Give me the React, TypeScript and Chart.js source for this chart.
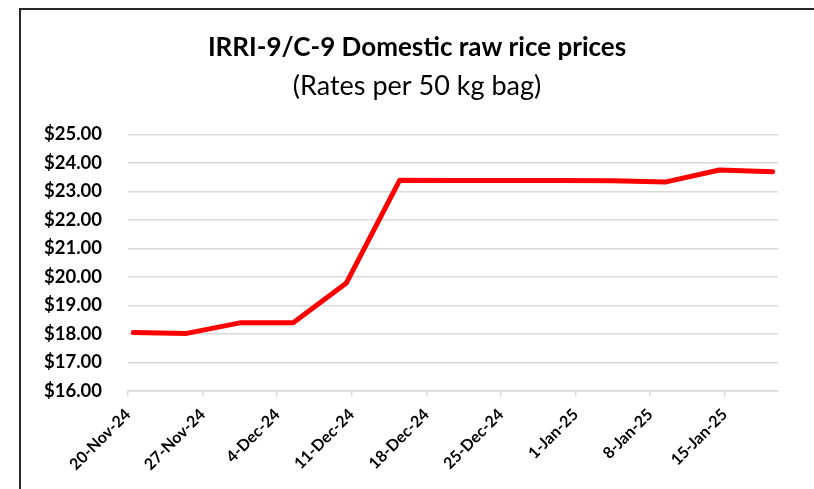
import React, { useEffect, useRef } from "react";
import { Chart, registerables } from "chart.js";

Chart.register(...registerables);

const TITLE = "IRRI-9/C-9 Domestic raw rice prices";
const SUBTITLE = "(Rates per 50 kg bag)";

// observation dates and prices (USD per 50 kg bag)
const dates = [
  "2024-11-20", "2024-11-25", "2024-11-30", "2024-12-05", "2024-12-10",
  "2024-12-15", "2024-12-20", "2024-12-25", "2024-12-30", "2025-01-04",
  "2025-01-09", "2025-01-14", "2025-01-19",
];
const prices = [
  18.05, 18.02, 18.39, 18.39, 19.79,
  23.39, 23.38, 23.38, 23.38, 23.37,
  23.33, 23.75, 23.69,
];

// x-axis ticks (weekly) and range
const tickDates = [
  "2024-11-20", "2024-11-27", "2024-12-04", "2024-12-11", "2024-12-18",
  "2024-12-25", "2025-01-01", "2025-01-08", "2025-01-15",
];
const axisStart = "2024-11-20";
const axisEnd = "2025-01-20";

const yMin = 16;
const yMax = 25;
const yStep = 1;

const MONTHS = ["Jan", "Feb", "Mar", "Apr", "May", "Jun", "Jul", "Aug", "Sep", "Oct", "Nov", "Dec"];
const DAY = 86400000;
const toUTC = (s: string) => {
  const [y, m, d] = s.split("-").map(Number);
  return Date.UTC(y, m - 1, d);
};
const dayOffset = (s: string) => Math.round((toUTC(s) - toUTC(axisStart)) / DAY);
const fmtDay = (off: number) => {
  const dt = new Date(toUTC(axisStart) + off * DAY);
  return `${dt.getUTCDate()}-${MONTHS[dt.getUTCMonth()]}-${String(dt.getUTCFullYear()).slice(2)}`;
};

const FONT = "Lato, 'Open Sans', sans-serif";

// draws the two-line heading centred inside the framed chart box
const headingPlugin = {
  id: "heading",
  afterDraw(chart: any) {
    const ctx = chart.ctx;
    const cx = (20 + chart.width) / 2;
    ctx.save();
    ctx.fillStyle = "#000";
    ctx.textAlign = "center";
    ctx.textBaseline = "middle";
    ctx.font = `bold 26px ${FONT}`;
    ctx.fillText(TITLE, cx, 48);
    ctx.font = `normal 27px ${FONT}`;
    ctx.fillText(SUBTITLE, cx, 86);
    ctx.restore();
  },
};

export default function App() {
  const ref = useRef<HTMLCanvasElement | null>(null);

  useEffect(() => {
    if (!ref.current) return;
    const points = dates.map((d, i) => ({ x: dayOffset(d) + 0.5, y: prices[i] }));
    const tickVals = tickDates.map(dayOffset);
    const grid = "#d9d9d9";

    const chart = new Chart(ref.current, {
      type: "line",
      data: {
        datasets: [
          {
            label: "IRRI-9/C-9",
            data: points,
            borderColor: "#ff0000",
            backgroundColor: "#ff0000",
            borderWidth: 5,
            borderCapStyle: "round",
            borderJoinStyle: "round",
            pointRadius: 0,
            tension: 0,
          },
        ],
      },
      plugins: [headingPlugin],
      options: {
        animation: false,
        responsive: false,
        layout: { padding: { top: 134.3, left: 0, right: 36, bottom: 0 } },
        plugins: {
          legend: { display: false },
          tooltip: { enabled: false },
          title: { display: false },
        },
        scales: {
          x: {
            type: "linear",
            min: 0,
            max: dayOffset(axisEnd),
            afterBuildTicks: (scale: any) => {
              scale.ticks = tickVals.map((v) => ({ value: v }));
            },
            afterFit: (scale: any) => {
              scale.height = 98;
            },
            grid: {
              drawOnChartArea: false,
              drawTicks: true,
              tickLength: 5,
              color: grid,
              lineWidth: 1.5,
            },
            border: { display: true, color: grid, width: 1.5 },
            ticks: {
              autoSkip: false,
              maxRotation: 45,
              minRotation: 45,
              padding: 9,
              color: "#000",
              font: { family: FONT, size: 16, weight: "bold" },
              callback: (v: any) => fmtDay(Number(v)),
            },
          },
          y: {
            min: yMin,
            max: yMax,
            afterFit: (scale: any) => {
              scale.width = 128;
            },
            grid: { color: grid, lineWidth: 1.5, drawTicks: false },
            border: { display: false },
            ticks: {
              stepSize: yStep,
              padding: 26,
              color: "#000",
              font: { family: FONT, size: 18.5, weight: "bold" },
              callback: (v: any) => "$" + Number(v).toFixed(2),
            },
          },
        },
      },
    });
    return () => chart.destroy();
  }, []);

  return (
    <div style={{ position: "fixed", left: 0, top: 0, width: 814, height: 489, background: "#fff", overflow: "hidden" }}>
      <canvas ref={ref} width={814} height={489} style={{ position: "absolute", left: 0, top: 0, width: 814, height: 489 }} />
      <div
        style={{
          position: "absolute",
          left: 19,
          top: 8,
          width: 900,
          height: 600,
          borderTop: "2px solid #262626",
          borderLeft: "2px solid #262626",
          pointerEvents: "none",
        }}
      />
    </div>
  );
}
